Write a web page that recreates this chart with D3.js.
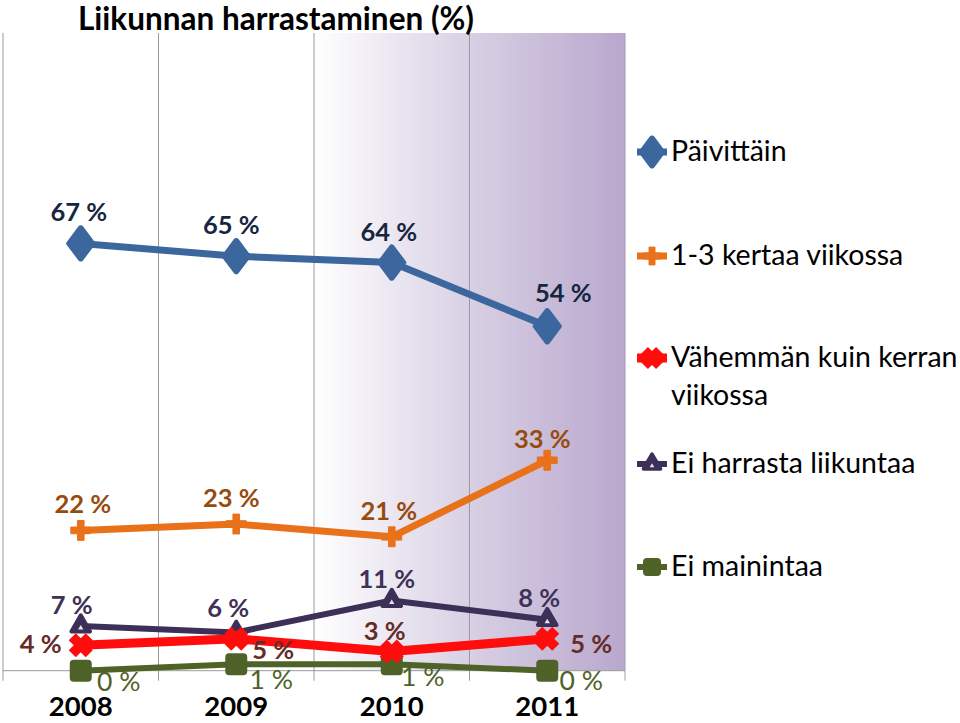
<!DOCTYPE html>
<html><head><meta charset="utf-8">
<script src="https://cdn.jsdelivr.net/npm/d3@7"></script>
<style>body{margin:0;background:#fff}svg{display:block;font-family:Lato,"Open Sans",sans-serif}</style>
</head><body>
<svg id="c" width="960" height="723"></svg>
<script>
const title = "Liikunnan harrastaminen (%)";
const years = ["2008","2009","2010","2011"];
const seriesNames = ["Päivittäin","1-3 kertaa viikossa","Vähemmän kuin kerran viikossa","Ei harrasta liikuntaa","Ei mainintaa"];
const paivittain = [67,65,64,54];
const kertaa13 = [22,23,21,33];
const vahemman = [4,5,3,5];
const eiHarrasta = [7,6,11,8];
const eiMainintaa = [0,1,1,0];
const yTicks = [0,100];

const series = [
  {name:seriesNames[0], values:paivittain, color:"#3b679e", label:"#17263f", lw:7, marker:"diamond", bold:true, fs:25.5},
  {name:seriesNames[1], values:kertaa13, color:"#e8711a", label:"#974b0f", lw:7, marker:"plus", bold:true, fs:25.5},
  {name:seriesNames[2], values:vahemman, color:"#ff0d0d", label:"#642b27", lw:9, marker:"x", bold:true, fs:25.5},
  {name:seriesNames[3], values:eiHarrasta, color:"#3c2f58", label:"#403156", lw:6, marker:"triangle", bold:true, fs:25.5},
  {name:seriesNames[4], values:eiMainintaa, color:"#4f6228", label:"#4f6228", lw:6, marker:"square", bold:false, fs:26.5}
];
const labelOffsets = [
  [[-2,-22],[-5,-22],[-3,-22],[16,-24]],
  [[2,-17],[-5,-17],[-3,-17],[-5,-12]],
  [[-40,8],[37,20],[-7,-12],[44,14]],
  [[-9,-12],[-8,-15],[-5,-13],[-8,-13]],
  [[38,20],[35,25],[31,22],[34,19]]
];

const svg = d3.select("#c");
const L = 3, R = 625, T = 33;
const x = d3.scaleBand().domain(years).range([L,R]).padding(0);
const y = d3.scaleLinear().domain([yTicks[0], yTicks[1]]).range([670.7, T]);
const cx = d => x(d) + x.bandwidth()/2;

const defs = svg.append("defs");
const g = defs.append("linearGradient").attr("id","bg").attr("gradientUnits","userSpaceOnUse")
  .attr("x1",x("2010")).attr("x2",R).attr("y1",0).attr("y2",0);
g.append("stop").attr("offset","0").attr("stop-color","#ffffff");
g.append("stop").attr("offset","0.5").attr("stop-color","#d8d0e4");
g.append("stop").attr("offset","1").attr("stop-color","#b9a7cd");

svg.append("rect").attr("x",x("2010")).attr("y",T).attr("width",R-x("2010")).attr("height",y(0)-T).attr("fill","url(#bg)");

const bounds = years.map(d=>x(d)).concat([R]);
svg.selectAll(".grid").data(bounds).join("line")
  .attr("x1",d=>d).attr("x2",d=>d).attr("y1",T).attr("y2",y(0)+10)
  .attr("stroke",(d,i)=>i===bounds.length-1?"#a89abd":"#9a9a9a").attr("stroke-width",1);
svg.append("line").attr("x1",L).attr("x2",R).attr("y1",y(0)).attr("y2",y(0)).attr("stroke","#9a9a9a").attr("stroke-width",1);

svg.selectAll(".xl").data(years).join("text")
  .attr("x",d=>cx(d)).attr("y",716).attr("text-anchor","middle")
  .attr("font-weight","bold").attr("font-size",27.5).attr("fill","#000").text(d=>d);

svg.append("text").attr("x",78).attr("y",30).attr("font-weight","bold").attr("font-size",31.5).attr("fill","#000").text(title);

function drawMarker(sel, type, color, scale){
  scale = scale||1;
  if(type==="diamond"){
    sel.append("path").attr("d",d3.symbol(d3.symbolDiamond, 300*scale)())
      .attr("fill",color).attr("stroke",color).attr("stroke-width",4).attr("stroke-linejoin","round")
      .attr("transform","scale(1.3,1)");
  } else if(type==="plus"){
    sel.append("path").attr("d",d3.symbol(d3.symbolCross, 220*scale)())
      .attr("fill",color).attr("stroke",color).attr("stroke-width",1);
  } else if(type==="x"){
    sel.append("path").attr("d",d3.symbol(d3.symbolX, 190*scale)())
      .attr("fill","none").attr("stroke",color).attr("stroke-width",10);
  } else if(type==="triangle"){
    sel.append("path").attr("d",d3.symbol(d3.symbolTriangle, 150*scale)())
      .attr("fill",color).attr("stroke",color).attr("stroke-width",4).attr("stroke-linejoin","round");
    sel.append("path").attr("d",d3.symbol(d3.symbolTriangle, 12*scale)())
      .attr("transform","translate(0,2)").attr("fill","#e8e4f0");
  } else if(type==="square"){
    sel.append("rect").attr("x",-10*scale).attr("y",-10*scale).attr("width",20*scale).attr("height",20*scale)
      .attr("rx",3).attr("fill",color).attr("stroke",color).attr("stroke-width",2);
  }
}

const line = d3.line().x((d,i)=>cx(years[i])).y(d=>y(d));
const order = [4,3,2,1,0];
order.forEach(si=>{
  const s = series[si];
  svg.append("path").datum(s.values).attr("d",line).attr("fill","none")
    .attr("stroke",s.color).attr("stroke-width",s.lw).attr("stroke-linejoin","round");
  s.values.forEach((v,i)=>{
    const m = svg.append("g").attr("transform",`translate(${cx(years[i])},${y(v)})`);
    drawMarker(m, s.marker, s.color);
  });
});
series.forEach((s,si)=>{
  s.values.forEach((v,i)=>{
    const o = labelOffsets[si][i];
    svg.append("text").attr("x",cx(years[i])+o[0]).attr("y",y(v)+o[1]).attr("text-anchor","middle")
      .attr("font-size",s.fs).attr("font-weight",s.bold?"bold":"normal").attr("fill",s.label)
      .text(v+" %");
  });
});

const legY = [152,256,358,464,567];
series.forEach((s,si)=>{
  const gy = legY[si];
  svg.append("line").attr("x1",637).attr("x2",667).attr("y1",gy).attr("y2",gy)
    .attr("stroke",s.color).attr("stroke-width",s.lw);
  const m = svg.append("g").attr("transform",`translate(652,${gy})`);
  drawMarker(m, s.marker, s.color, 0.8);
  const t = svg.append("text").attr("x",671).attr("y",gy+9).attr("font-size",28.5).attr("fill","#000");
  if(si===2){
    t.append("tspan").attr("x",671).text("Vähemmän kuin kerran");
    t.append("tspan").attr("x",671).attr("dy",38).text("viikossa");
  } else t.text(s.name);
});
</script>
</body></html>
